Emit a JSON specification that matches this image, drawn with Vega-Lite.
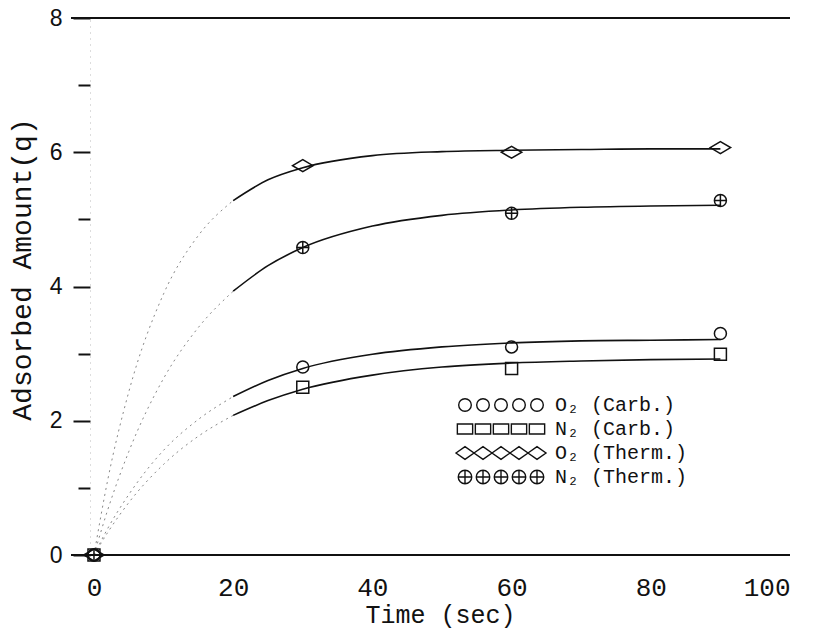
{
  "$schema": "https://vega.github.io/schema/vega-lite/v6.json",
  "width": 719,
  "height": 537,
  "autosize": {"type": "none"},
  "padding": {"left": 71, "top": 18, "right": 27, "bottom": 84},
  "background": "white",
  "config": {"view": {"stroke": null}},
  "datasets": {
    "curves": [
      {"series": "O₂ (Therm.)", "t": 0, "q": 0},
      {"series": "O₂ (Therm.)", "t": 2, "q": 1.13},
      {"series": "O₂ (Therm.)", "t": 5, "q": 2.43},
      {"series": "O₂ (Therm.)", "t": 10, "q": 3.89},
      {"series": "O₂ (Therm.)", "t": 15, "q": 4.76},
      {"series": "O₂ (Therm.)", "t": 20, "q": 5.28},
      {"series": "O₂ (Therm.)", "t": 25, "q": 5.59},
      {"series": "O₂ (Therm.)", "t": 30, "q": 5.77},
      {"series": "O₂ (Therm.)", "t": 40, "q": 5.95},
      {"series": "O₂ (Therm.)", "t": 50, "q": 6.01},
      {"series": "O₂ (Therm.)", "t": 60, "q": 6.03},
      {"series": "O₂ (Therm.)", "t": 70, "q": 6.04},
      {"series": "O₂ (Therm.)", "t": 80, "q": 6.05},
      {"series": "O₂ (Therm.)", "t": 90, "q": 6.05},
      {"series": "N₂ (Therm.)", "t": 0, "q": 0},
      {"series": "N₂ (Therm.)", "t": 2, "q": 0.68},
      {"series": "N₂ (Therm.)", "t": 5, "q": 1.54},
      {"series": "N₂ (Therm.)", "t": 10, "q": 2.63},
      {"series": "N₂ (Therm.)", "t": 15, "q": 3.39},
      {"series": "N₂ (Therm.)", "t": 20, "q": 3.93},
      {"series": "N₂ (Therm.)", "t": 25, "q": 4.31},
      {"series": "N₂ (Therm.)", "t": 30, "q": 4.58},
      {"series": "N₂ (Therm.)", "t": 40, "q": 4.9},
      {"series": "N₂ (Therm.)", "t": 50, "q": 5.06},
      {"series": "N₂ (Therm.)", "t": 60, "q": 5.14},
      {"series": "N₂ (Therm.)", "t": 70, "q": 5.18},
      {"series": "N₂ (Therm.)", "t": 80, "q": 5.2},
      {"series": "N₂ (Therm.)", "t": 90, "q": 5.21},
      {"series": "O₂ (Carb.)", "t": 0, "q": 0},
      {"series": "O₂ (Carb.)", "t": 2, "q": 0.4},
      {"series": "O₂ (Carb.)", "t": 5, "q": 0.9},
      {"series": "O₂ (Carb.)", "t": 10, "q": 1.56},
      {"series": "O₂ (Carb.)", "t": 15, "q": 2.02},
      {"series": "O₂ (Carb.)", "t": 20, "q": 2.36},
      {"series": "O₂ (Carb.)", "t": 25, "q": 2.6},
      {"series": "O₂ (Carb.)", "t": 30, "q": 2.78},
      {"series": "O₂ (Carb.)", "t": 40, "q": 2.99},
      {"series": "O₂ (Carb.)", "t": 50, "q": 3.1},
      {"series": "O₂ (Carb.)", "t": 60, "q": 3.16},
      {"series": "O₂ (Carb.)", "t": 70, "q": 3.19},
      {"series": "O₂ (Carb.)", "t": 80, "q": 3.2},
      {"series": "O₂ (Carb.)", "t": 90, "q": 3.21},
      {"series": "N₂ (Carb.)", "t": 0, "q": 0},
      {"series": "N₂ (Carb.)", "t": 2, "q": 0.34},
      {"series": "N₂ (Carb.)", "t": 5, "q": 0.78},
      {"series": "N₂ (Carb.)", "t": 10, "q": 1.35},
      {"series": "N₂ (Carb.)", "t": 15, "q": 1.77},
      {"series": "N₂ (Carb.)", "t": 20, "q": 2.08},
      {"series": "N₂ (Carb.)", "t": 25, "q": 2.3},
      {"series": "N₂ (Carb.)", "t": 30, "q": 2.47},
      {"series": "N₂ (Carb.)", "t": 40, "q": 2.68},
      {"series": "N₂ (Carb.)", "t": 50, "q": 2.8},
      {"series": "N₂ (Carb.)", "t": 60, "q": 2.86},
      {"series": "N₂ (Carb.)", "t": 70, "q": 2.89},
      {"series": "N₂ (Carb.)", "t": 80, "q": 2.91},
      {"series": "N₂ (Carb.)", "t": 90, "q": 2.92}
    ],
    "points": [
      {"series": "O₂ (Carb.)", "t": 0, "q": 0},
      {"series": "O₂ (Carb.)", "t": 30, "q": 2.8},
      {"series": "O₂ (Carb.)", "t": 60, "q": 3.1},
      {"series": "O₂ (Carb.)", "t": 90, "q": 3.3},
      {"series": "N₂ (Carb.)", "t": 0, "q": 0},
      {"series": "N₂ (Carb.)", "t": 30, "q": 2.5},
      {"series": "N₂ (Carb.)", "t": 60, "q": 2.78},
      {"series": "N₂ (Carb.)", "t": 90, "q": 2.99},
      {"series": "O₂ (Therm.)", "t": 0, "q": 0},
      {"series": "O₂ (Therm.)", "t": 30, "q": 5.8},
      {"series": "O₂ (Therm.)", "t": 60, "q": 6.0},
      {"series": "O₂ (Therm.)", "t": 90, "q": 6.07},
      {"series": "N₂ (Therm.)", "t": 0, "q": 0},
      {"series": "N₂ (Therm.)", "t": 30, "q": 4.58},
      {"series": "N₂ (Therm.)", "t": 60, "q": 5.09},
      {"series": "N₂ (Therm.)", "t": 90, "q": 5.28}
    ],
    "frame": [{"q": 0}, {"q": 8}]
  },
  "resolve": {"scale": {"shape": "independent"}, "legend": {"shape": "independent"}},
  "layer": [
    {
      "data": {"name": "curves"},
      "transform": [{"filter": "datum.t <= 20"}],
      "mark": {"type": "line", "interpolate": "monotone", "color": "#888", "strokeWidth": 1, "strokeDash": [2, 4]},
      "encoding": {
        "x": {
          "field": "t", "type": "quantitative",
          "scale": {"domain": [-3.3, 100], "nice": false, "zero": false},
          "axis": {
            "values": [0, 20, 40, 60, 80, 100],
            "domain": false, "ticks": false, "grid": false,
            "labelFont": "Liberation Mono", "labelFontSize": 26, "labelColor": "#111",
            "labelPadding": 19,
            "title": "Time (sec)", "titleFont": "Liberation Mono", "titleFontSize": 25,
            "titleFontWeight": "normal", "titleColor": "#111",
            "titleX": 369, "titleY": 59, "titleBaseline": "middle", "titleAlign": "center"
          }
        },
        "y": {
          "field": "q", "type": "quantitative",
          "scale": {"domain": [0, 8], "nice": false},
          "axis": {
            "values": [0, 1, 2, 3, 4, 5, 6, 7, 8],
            "format": "d",
            "offset": -19,
            "grid": false,
            "domainColor": "#bbb", "domainDash": [1, 5], "domainWidth": 1,
            "tickColor": "#111", "tickWidth": 2,
            "tickSize": {"condition": {"test": "datum.value % 2 === 0", "value": 17}, "value": 12},
            "labelExpr": "datum.value % 2 === 0 ? datum.label : ''",
            "labelFont": "Liberation Sans", "labelFontSize": 23, "labelColor": "#111",
            "labelPadding": 11,
            "title": "Adsorbed Amount(q)", "titleFont": "Liberation Mono", "titleFontSize": 28,
            "titleFontWeight": "normal", "titleColor": "#111",
            "titleX": -68, "titleY": 251, "titleAngle": -90, "titleBaseline": "middle", "titleAlign": "center"
          }
        },
        "detail": {"field": "series"}
      }
    },
    {
      "data": {"name": "curves"},
      "transform": [{"filter": "datum.t >= 20"}],
      "mark": {"type": "line", "interpolate": "monotone", "color": "#111", "strokeWidth": 1.6},
      "encoding": {
        "x": {"field": "t", "type": "quantitative"},
        "y": {"field": "q", "type": "quantitative"},
        "detail": {"field": "series"}
      }
    },
    {
      "data": {"name": "frame"},
      "mark": {"type": "rule", "color": "#111", "strokeWidth": 2},
      "encoding": {"y": {"field": "q", "type": "quantitative"}}
    },
    {
      "data": {"name": "points"},
      "mark": {"type": "point", "filled": false, "color": "#111", "strokeWidth": 1.5, "size": 144, "opacity": 1},
      "encoding": {
        "x": {"field": "t", "type": "quantitative"},
        "y": {"field": "q", "type": "quantitative"},
        "shape": {
          "field": "series", "type": "nominal",
          "scale": {
            "domain": ["O₂ (Carb.)", "N₂ (Carb.)", "O₂ (Therm.)", "N₂ (Therm.)"],
            "range": ["circle", "square", "M-1.7,0L0,-1L1.7,0L0,1Z", "M-1,0A1,1,0,1,1,1,0A1,1,0,1,1,-1,0ZM-1,0H1M0,-1V1"]
          },
          "legend": null
        }
      }
    },
    {
      "data": {"name": "points"},
      "mark": {"type": "point", "filled": false, "color": "#111", "strokeWidth": 1.5, "opacity": 0},
      "encoding": {
        "x": {"field": "t", "type": "quantitative"},
        "y": {"field": "q", "type": "quantitative"},
        "shape": {
          "field": "series", "type": "nominal",
          "scale": {
            "domain": ["O₂ (Carb.)", "N₂ (Carb.)", "O₂ (Therm.)", "N₂ (Therm.)"],
            "range": [
              "M-4.7,0A0.7,0.7,0,1,1,-3.3,0A0.7,0.7,0,1,1,-4.7,0ZM-2.7,0A0.7,0.7,0,1,1,-1.3,0A0.7,0.7,0,1,1,-2.7,0ZM-0.7,0A0.7,0.7,0,1,1,0.7,0A0.7,0.7,0,1,1,-0.7,0ZM1.3,0A0.7,0.7,0,1,1,2.7,0A0.7,0.7,0,1,1,1.3,0ZM3.3,0A0.7,0.7,0,1,1,4.7,0A0.7,0.7,0,1,1,3.3,0Z",
              "M-4.85,-0.55H-3.15V0.55H-4.85ZM-2.85,-0.55H-1.15V0.55H-2.85ZM-0.85,-0.55H0.85V0.55H-0.85ZM1.15,-0.55H2.85V0.55H1.15ZM3.15,-0.55H4.85V0.55H3.15Z",
              "M-5,0L-4,-0.7L-3,0L-4,0.7ZM-3,0L-2,-0.7L-1,0L-2,0.7ZM-1,0L0,-0.7L1,0L0,0.7ZM1,0L2,-0.7L3,0L2,0.7ZM3,0L4,-0.7L5,0L4,0.7Z",
              "M-4.75,0A0.75,0.75,0,1,1,-3.25,0A0.75,0.75,0,1,1,-4.75,0ZM-4.75,0H-3.25M-4,-0.75V0.75M-2.75,0A0.75,0.75,0,1,1,-1.25,0A0.75,0.75,0,1,1,-2.75,0ZM-2.75,0H-1.25M-2,-0.75V0.75M-0.75,0A0.75,0.75,0,1,1,0.75,0A0.75,0.75,0,1,1,-0.75,0ZM-0.75,0H0.75M0,-0.75V0.75M1.25,0A0.75,0.75,0,1,1,2.75,0A0.75,0.75,0,1,1,1.25,0ZM1.25,0H2.75M2,-0.75V0.75M3.25,0A0.75,0.75,0,1,1,4.75,0A0.75,0.75,0,1,1,3.25,0ZM3.25,0H4.75M4,-0.75V0.75"
            ]
          },
          "legend": {
            "orient": "none", "legendX": 420, "legendY": 377,
            "title": null,
            "symbolSize": 324, "symbolOpacity": 1, "symbolStrokeColor": "#111",
            "symbolFillColor": "transparent", "symbolStrokeWidth": 1.4,
            "labelFont": "Liberation Mono", "labelFontSize": 20, "labelColor": "#111",
            "labelOffset": 44, "rowPadding": 4, "labelLimit": 300
          }
        }
      }
    }
  ]
}
